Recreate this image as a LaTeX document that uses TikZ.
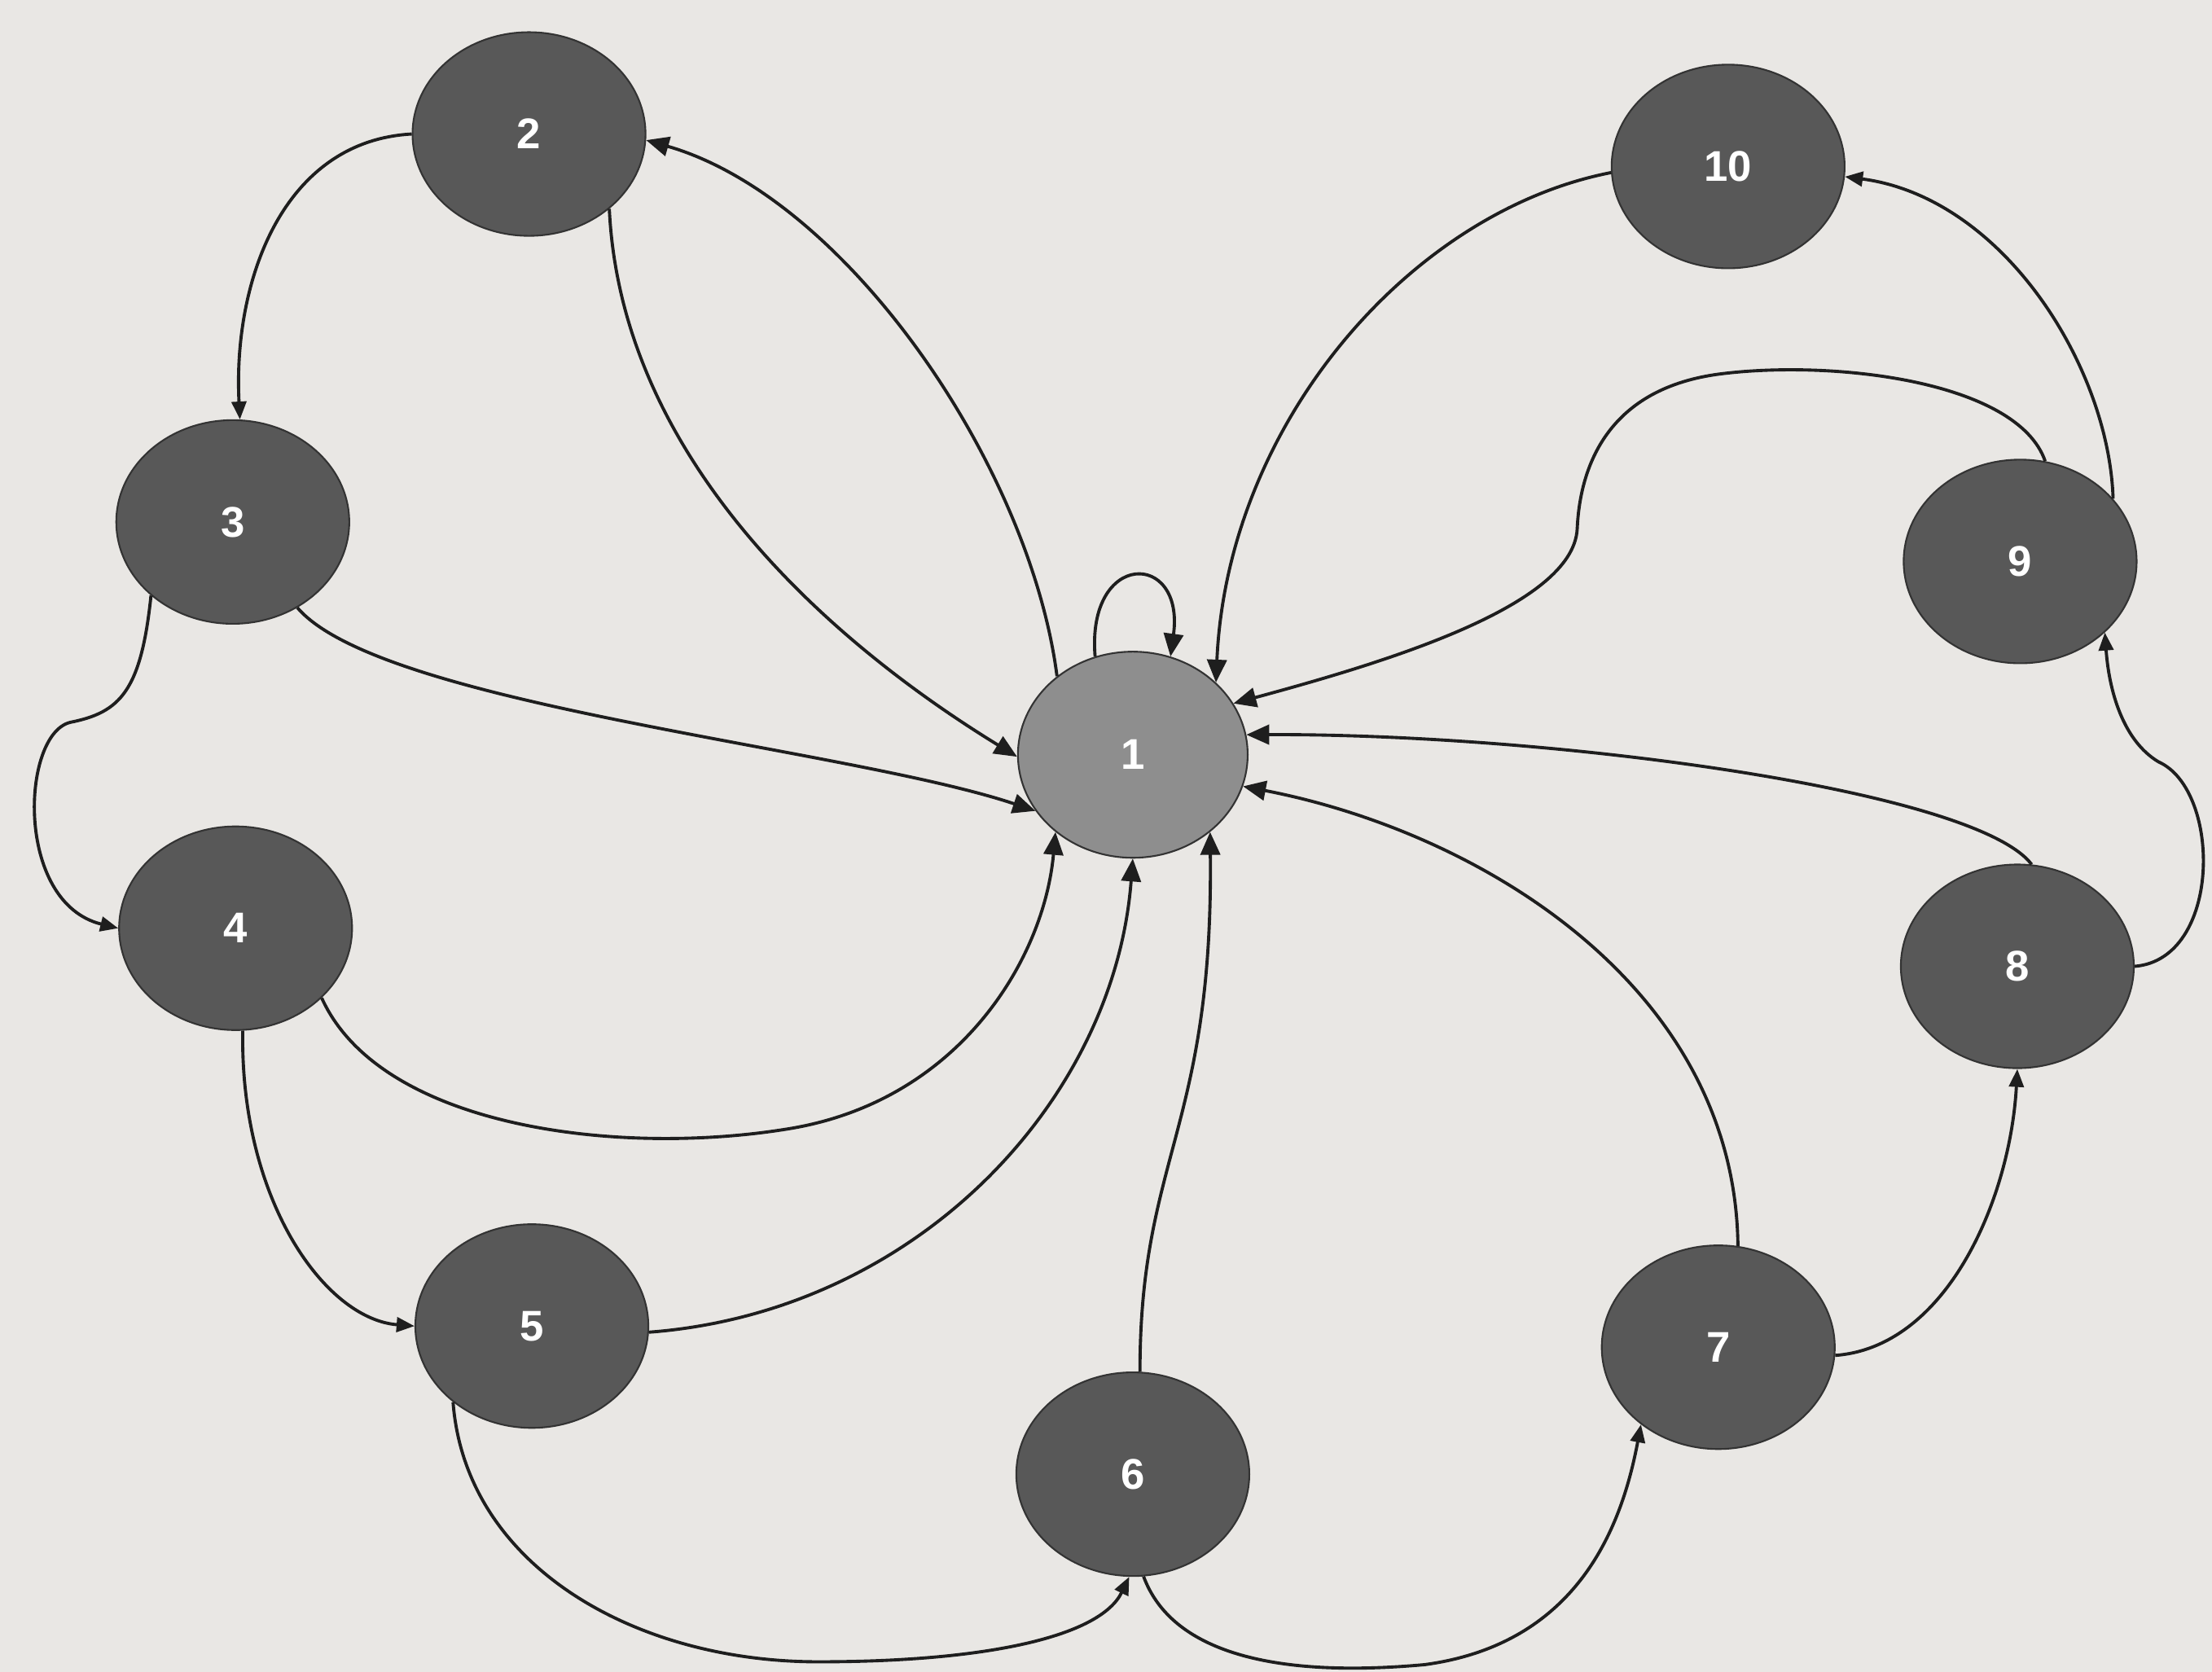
\documentclass[tikz,border=0pt]{standalone}
\usepackage{fontspec}
\setmainfont{Liberation Sans}
\usetikzlibrary{shapes.geometric,arrows.meta}
\definecolor{bg}{HTML}{E9E7E4}
\definecolor{nodedark}{HTML}{585858}
\definecolor{nodelight}{HTML}{8E8E8E}
\definecolor{edgec}{HTML}{1E1E1E}
\begin{document}
\begin{tikzpicture}[x=0.017321cm,y=-0.017321cm,
  state/.style={ellipse, fill=nodedark, draw=black!80, line width=0.6pt,
    minimum width=2.86cm, minimum height=2.5cm, inner sep=0pt, text=white,
    font=\fontsize{15}{18}\selectfont\bfseries},
  link/.style={draw=edgec, line width=1.1pt, -{Triangle[length=0.22cm,width=0.18cm]}},
  linkc/.style={draw=edgec, line width=1.1pt, -{Triangle[length=0.28cm,width=0.24cm]}}]
\fill[bg] (0,0) rectangle (1568,1185);
\useasboundingbox (0,0) rectangle (1568,1185);

\node[state, fill=nodelight, minimum width=2.82cm, minimum height=2.53cm] (n1) at (803,535) {1};
\node[state] (n2) at (375,95) {2};
\node[state] (n3) at (165,370) {3};
\node[state] (n4) at (167,658) {4};
\node[state] (n5) at (377,940) {5};
\node[state] (n6) at (803,1045) {6};
\node[state] (n7) at (1218,955) {7};
\node[state] (n8) at (1430,685) {8};
\node[state] (n9) at (1432,398) {9};
\node[state] (n10) at (1225,118) {10};

% ring edges
\draw[link] (n2.180) .. controls (200,100) and (165,200) .. (n3.86);
\draw[link] (n3.222) .. controls (100,490) and (85,505) .. (50,512) .. controls (15,520) and (10,640) .. (n4.180);
\draw[link] (n4.-86) .. controls (170,850) and (230,935) .. (n5.180);
\draw[link] (n5.224) .. controls (330,1110) and (450,1178) .. (580,1178) .. controls (700,1178) and (780,1160) .. (n6.268);
\draw[link] (n6.-84) .. controls (830,1170) and (900,1190) .. (1010,1180) .. controls (1120,1165) and (1150,1080) .. (n7.225);
\draw[link] (n7.-4) .. controls (1380,955) and (1425,850) .. (n8.270);
\draw[link] (n8.0) .. controls (1575,680) and (1575,560) .. (1530,540) .. controls (1505,525) and (1495,490) .. (n9.-40);
\draw[link] (n9.34) .. controls (1495,260) and (1420,140) .. (n10.-5);

% edges to and from 1
\draw[linkc] (n10.183) .. controls (1000,150) and (870,300) .. (n1.41);
\draw[linkc] (n9.76) .. controls (1430,270) and (1300,255) .. (1220,265) .. controls (1140,275) and (1120,330) .. (1118,375) .. controls (1115,430) and (980,470) .. (n1.27);
\draw[linkc] (n8.82) .. controls (1400,560) and (1100,520) .. (n1.10);
\draw[linkc] (n7.79) .. controls (1230,700) and (1050,590) .. (n1.-16);
\draw[linkc] (n6.86) .. controls (808,820) and (860,800) .. (n1.-45);
\draw[linkc] (n5.-3) .. controls (650,930) and (790,780) .. (n1.270);
\draw[linkc] (n4.-39) .. controls (270,800) and (440,820) .. (560,800) .. controls (680,780) and (740,680) .. (n1.225);
\draw[linkc] (n3.-53) .. controls (270,500) and (600,530) .. (n1.210);
\draw[linkc] (n2.-43) .. controls (440,320) and (580,450) .. (n1.181);
\draw[linkc] (n1.134) .. controls (730,330) and (600,140) .. (n2.-3);
\draw[linkc] (n1.111) .. controls (770,390) and (840,390) .. (n1.69);
\end{tikzpicture}
\end{document}
